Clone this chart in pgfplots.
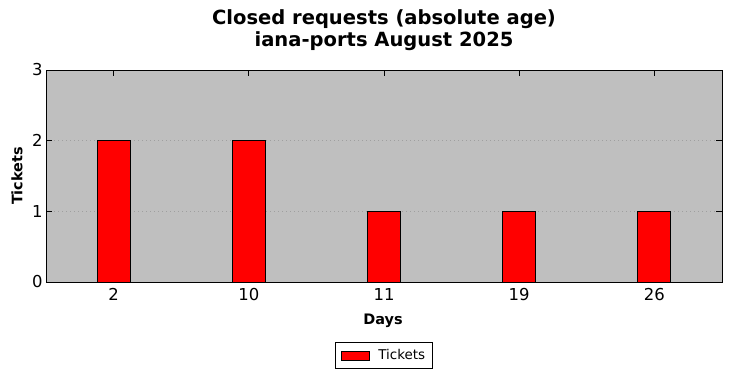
\documentclass[border=0pt]{standalone}
\usepackage{pgfplots}
\pgfplotsset{compat=1.18}
\usepackage{fontspec}
\setmainfont{DejaVu Sans}
\definecolor{bgGray}{HTML}{BFBFBF}
\begin{document}
\begin{tikzpicture}[x=1bp,y=1bp]
\useasboundingbox (0,0) rectangle (731,378);
\begin{axis}[at={(46bp,96bp)}, anchor=south west, scale only axis,
  width=676bp, height=212bp,
  xmin=-0.5, xmax=4.5, ymin=0, ymax=3,
  xtick={0,1,2,3,4}, xticklabels={2,10,11,19,26}, ytick={0,1,2,3},
  tick align=inside, major tick length=6bp,
  tick style={black, line width=0.8bp},
  axis line style={line width=1bp},
  axis background/.style={fill=bgGray},
  ymajorgrids, grid style={gray!75, line width=0.8bp, dash pattern=on 1bp off 3bp},
  ticklabel style={font=\fontsize{16.5}{18}\selectfont},
  xticklabel style={yshift=-3bp},
  /pgf/number format/assume math mode=true,
  legend style={at={(0.5,-0.3467)}, anchor=center, draw=black, line width=1bp,
    font=\fontsize{13.5}{15}\selectfont, inner xsep=5bp, inner ysep=5bp},
  legend image code/.code={\draw[fill=red, draw=black, line width=0.8bp] (0bp,-4.5bp) rectangle (28bp,4.5bp);
    \path[draw=none, fill=none] (0bp,0bp) -- (35bp,0bp);},
]
\addplot[ybar, bar width=33bp, fill=red, draw=black, line width=1bp]
  coordinates {(0,2) (1,2) (2,1) (3,1) (4,1)};
\addlegendentry{Tickets}
\end{axis}
\node[align=center, font=\fontsize{19.6}{22}\selectfont\bfseries] at (384,348) {Closed requests (absolute age)\\iana-ports August 2025};
\node[font=\fontsize{14.5}{16}\selectfont\bfseries] at (383,57) {Days};
\node[font=\fontsize{14.5}{16}\selectfont\bfseries, rotate=90] at (17,202) {Tickets};
\end{tikzpicture}
\end{document}
